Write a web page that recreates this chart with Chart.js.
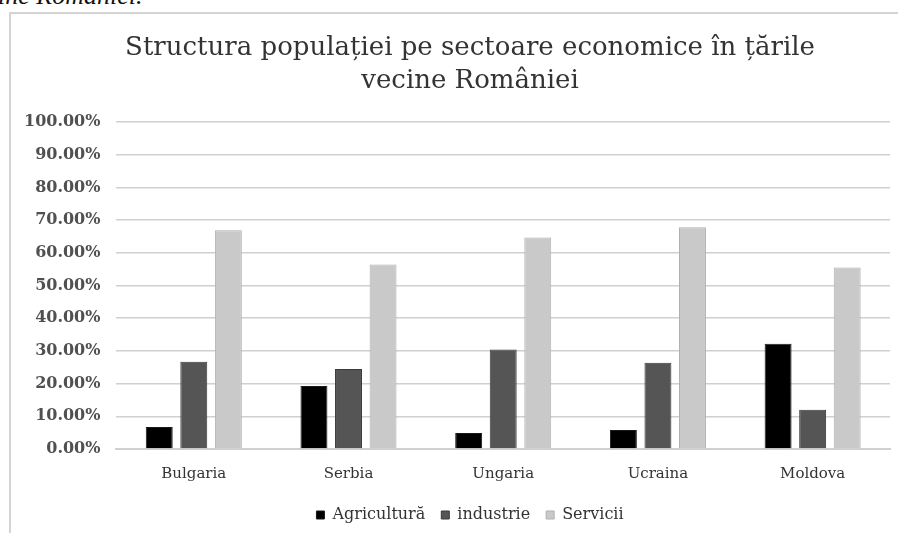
<!DOCTYPE html>
<html>
<head>
<meta charset="utf-8">
<script src="https://cdn.jsdelivr.net/npm/chart.js@4"></script>
<style>
  html, body { margin: 0; padding: 0; background: #fff; width: 898px; height: 533px; overflow: hidden; position: relative; }
  #cut { position: absolute; left: -2px; top: -19px; font-family: "Liberation Serif", serif; font-style: italic; font-size: 26px; color: #111; white-space: nowrap; }
  #box { position: absolute; left: 9px; top: 12px; width: 900px; height: 540px; border-left: 2px solid #d4d4d4; border-top: 2px solid #d4d4d4; box-sizing: border-box; }
  #wrap { position: absolute; left: 6px; top: 14px; width: 928px; height: 519px; }
</style>
</head>
<body>
<div id="cut">ine României.</div>
<div id="box"></div>
<div id="wrap"><canvas id="c"></canvas></div>
<script>
const categories = ["Bulgaria", "Serbia", "Ungaria", "Ucraina", "Moldova"];
const agricultura = [6.7, 19.3, 4.9, 5.8, 32.2];
const industrie = [26.7, 24.5, 30.4, 26.4, 12.0];
const servicii = [66.9, 56.4, 64.7, 67.8, 55.5];
const seriesNames = ["Agricultură", "industrie", "Servicii"];
const titleLines = ["Structura populației pe sectoare economice în țările", "vecine României"];

const serif = "'DejaVu Serif', 'Liberation Serif', serif";

new Chart(document.getElementById('c'), {
  type: 'bar',
  data: {
    labels: categories,
    datasets: [
      { label: seriesNames[0], data: agricultura, backgroundColor: '#000000', borderColor: '#1a1a1a', borderWidth: 1 },
      { label: seriesNames[1], data: industrie, backgroundColor: '#555555', borderColor: '#3a3a3a', borderWidth: 1 },
      { label: seriesNames[2], data: servicii, backgroundColor: '#c9c9c9', borderColor: '#b0b0b0', borderWidth: 1 }
    ]
  },
  options: {
    responsive: true,
    maintainAspectRatio: false,
    animation: false,
    devicePixelRatio: 1,
    layout: { padding: { left: 2, right: 2, top: 4, bottom: 0 } },
    datasets: { bar: { categoryPercentage: 0.67, barPercentage: 0.78 } },
    plugins: {
      title: {
        display: true,
        text: titleLines,
        color: '#333333',
        font: { family: serif, size: 26, weight: 'normal', lineHeight: 1.27 },
        padding: { top: 14, bottom: 24 }
      },
      legend: {
        position: 'bottom',
        labels: {
          boxWidth: 8, boxHeight: 8, padding: 16,
          color: '#333',
          font: { family: serif, size: 16 }
        }
      },
      tooltip: { enabled: false }
    },
    scales: {
      x: {
        grid: { display: false },
        border: { color: '#d0d0d0', width: 2 },
        ticks: { color: '#333', font: { family: serif, size: 15 }, padding: 8 }
      },
      y: {
        min: 0, max: 100,
        ticks: {
          stepSize: 10,
          color: '#505050',
          font: { family: serif, size: 16, weight: 'bold' },
          padding: 16,
          callback: v => v.toFixed(2) + '%'
        },
        grid: { color: '#d0d0d0', lineWidth: 1.5, drawTicks: false },
        border: { display: false }
      },
      rightMargin: {
        position: 'right',
        display: true,
        ticks: { display: false },
        grid: { display: false, drawTicks: false },
        border: { display: false },
        afterFit: s => { s.width = 42; }
      }
    }
  }
});
</script>
</body>
</html>
